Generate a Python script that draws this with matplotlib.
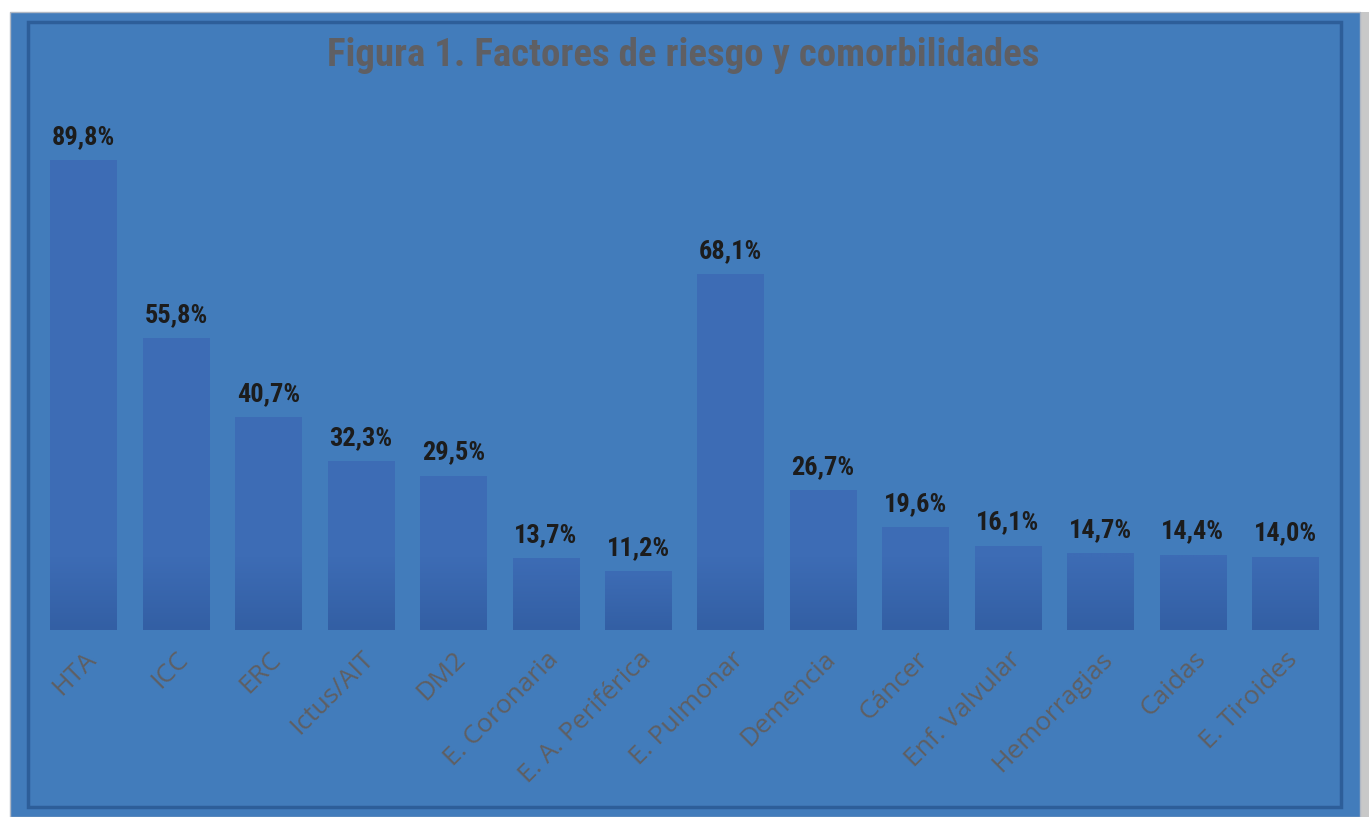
import numpy as np
import matplotlib.pyplot as plt
from matplotlib.patches import Rectangle
from matplotlib.colors import LinearSegmentedColormap

categorias = ["HTA", "ICC", "ERC", "Ictus/AIT", "DM2", "E. Coronaria",
              "E. A. Periférica", "E. Pulmonar", "Demencia", "Cáncer",
              "Enf. Valvular", "Hemorragias", "Caidas", "E. Tiroides"]
valores = [89.8, 55.8, 40.7, 32.3, 29.5, 13.7, 11.2, 68.1, 26.7, 19.6,
           16.1, 14.7, 14.4, 14.0]

W, H = 1369, 817
fondo = "#427cbb"
gris = "#5f5f63"
narrow = ["Roboto Condensed", "DejaVu Sans"]

fig = plt.figure(figsize=(W / 100, H / 100), dpi=100, facecolor="white")


def caja(x0, y0, x1, y1, **kw):
    # coordenadas en pixeles, y desde arriba
    r = Rectangle((x0 / W, 1 - y1 / H), (x1 - x0) / W, (y1 - y0) / H,
                  transform=fig.transFigure, zorder=-5, **kw)
    fig.patches.append(r)


caja(1360, 12, 1369, 817, facecolor="#c8c8c8", edgecolor="none")
caja(10, 12, 1360, 817, facecolor=fondo, edgecolor="#b0b8c4", linewidth=1)
caja(28, 22, 1341, 807, facecolor="none", edgecolor="#2d5e99", linewidth=2.5)

ax = fig.add_axes([37.5 / W, 1 - 630 / H, (1331.5 - 37.5) / W, 523 / H])
ax.set_facecolor("none")
x = range(len(categorias))
barras = ax.bar(x, valores, width=0.72, color="#3b69b1", zorder=2)
ax.set_xlim(-0.5, len(categorias) - 0.5)
ax.set_ylim(0, 100)

# degradado vertical en cada barra
cmap = LinearSegmentedColormap.from_list("barra", ["#335fa4", "#3d6cb5"])
grad = np.linspace(0, 1, 256).reshape(-1, 1)
for b in barras:
    x0, w, h = b.get_x(), b.get_width(), b.get_height()
    im = ax.imshow(grad, cmap=cmap, aspect="auto", origin="lower",
                   extent=(x0, x0 + w, 0, min(h, 14)), zorder=3)
    im.set_clip_path(b)
    im2 = ax.imshow(np.ones((2, 1)), cmap=cmap, vmin=0, vmax=1, aspect="auto",
                    extent=(x0, x0 + w, min(h, 14), h), zorder=3)
    im2.set_clip_path(b)

for b, v in zip(barras, valores):
    ax.annotate(f"{v:.1f}%".replace(".", ","),
                (b.get_x() + b.get_width() / 2, v),
                xytext=(0, 8), textcoords="offset points",
                ha="center", va="bottom", fontsize=19, fontweight="bold",
                family=narrow, color="#1c1c1c")

ax.set_xticks(list(x))
ax.set_xticklabels(categorias, rotation=45, ha="right", va="top",
                   rotation_mode="anchor", fontsize=19, family="Open Sans",
                   color=gris)
ax.tick_params(axis="x", length=0, pad=12)
ax.set_yticks([])
for s in ax.spines.values():
    s.set_visible(False)

fig.text(683 / W, 1 - 56 / H, "Figura 1. Factores de riesgo y comorbilidades",
         ha="center", va="center", fontsize=28, fontweight="bold",
         family=narrow, color=gris)

fig.savefig("out.png", dpi=100, facecolor="white")
